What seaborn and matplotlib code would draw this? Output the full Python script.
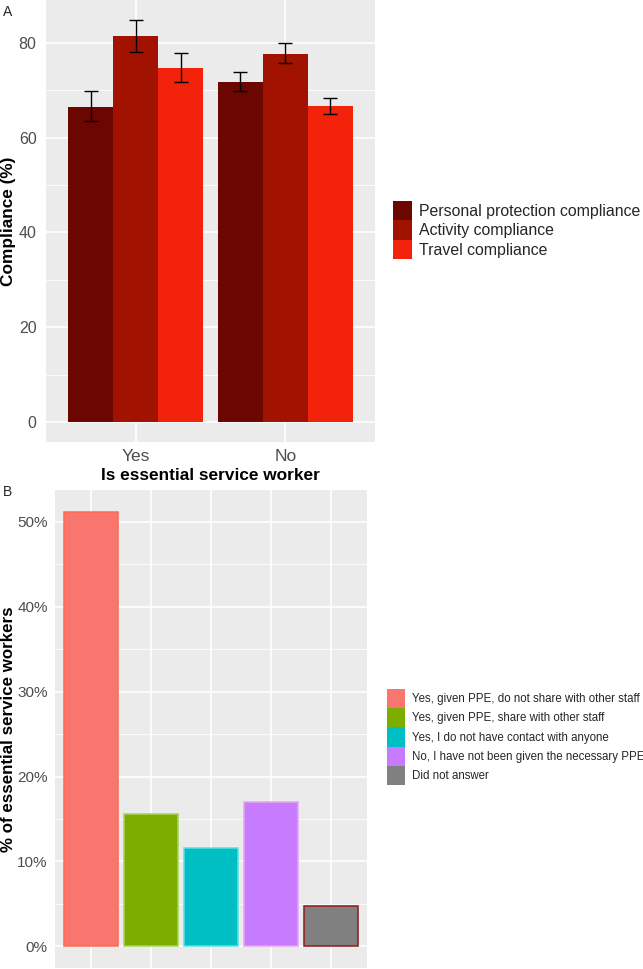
import matplotlib
matplotlib.use("Agg")
import matplotlib.pyplot as plt
from matplotlib.patches import Patch
from matplotlib.ticker import MultipleLocator, FuncFormatter
import pandas as pd
import seaborn as sns

W, H = 643, 969

# Panel A: compliance by essential-worker status
workers = ["Yes", "No"]
measures = ["Personal protection compliance", "Activity compliance", "Travel compliance"]
pp_mean = [66.6, 71.7]
pp_lo = [63.6, 69.8]
pp_hi = [69.8, 73.8]
act_mean = [81.5, 77.8]
act_lo = [78.2, 75.7]
act_hi = [84.9, 80.1]
trav_mean = [74.7, 66.7]
trav_lo = [71.7, 65.1]
trav_hi = [77.9, 68.5]
colors_a = ["#6B0600", "#A11300", "#F2230A"]

# Panel B: PPE situation of essential service workers
answers = [
    "Yes, given PPE, do not share with other staff",
    "Yes, given PPE, share with other staff",
    "Yes, I do not have contact with anyone",
    "No, I have not been given the necessary PPE",
    "Did not answer",
]
answer_pct = [51.2, 15.6, 11.6, 17.0, 4.7]
colors_b = ["#F8766D", "#7CAE00", "#00BFC4", "#C77CFF", "#808080"]
edges_b = ["#FF6B4F", "#A9D25A", "#5CE0E0", "#E3A6EE", "#8E1B1B"]

FONT = ["Liberation Sans", "DejaVu Sans"]


def px(x, y, w, h):
    # pixel box (top-left origin) -> figure fraction
    return [x / W, 1 - (y + h) / H, w / W, h / H]


def style_axes(ax):
    ax.set_facecolor("#EBEBEB")
    for s in ax.spines.values():
        s.set_visible(False)
    ax.set_axisbelow(True)
    ax.grid(which="major", color="white", lw=1.2)
    ax.grid(which="minor", axis="y", color="white", lw=0.6)
    ax.tick_params(which="major", length=2.8, width=0.8, color="#333333",
                   labelcolor="#4D4D4D")
    ax.tick_params(which="minor", length=0)


sns.set_theme(style="darkgrid")
plt.rcParams["font.family"] = FONT

fig = plt.figure(figsize=(W / 100, H / 100), dpi=100)
fig.patch.set_facecolor("white")

# ---- Panel A ----
rows = []
for m, means in zip(measures, [pp_mean, act_mean, trav_mean]):
    for w, v in zip(workers, means):
        rows.append({"worker": w, "measure": m, "value": v})
df_a = pd.DataFrame(rows)

ax_a = fig.add_axes(px(46, 0, 329, 442))
sns.barplot(data=df_a, x="worker", y="value", hue="measure", order=workers,
            hue_order=measures, palette=colors_a, width=0.9, saturation=1,
            errorbar=None, linewidth=0, ax=ax_a)

lows = [pp_lo, act_lo, trav_lo]
highs = [pp_hi, act_hi, trav_hi]
for cont, lo, hi in zip(ax_a.containers, lows, highs):
    for bar, l, h in zip(cont, lo, hi):
        xc = bar.get_x() + bar.get_width() / 2
        mid = (l + h) / 2
        ax_a.errorbar(xc, mid, yerr=[[mid - l], [h - mid]], fmt="none",
                      ecolor="black", elinewidth=1.0, capsize=4.8, capthick=1.0,
                      zorder=5)

style_axes(ax_a)
ax_a.set_xlim(-0.6, 1.6)
ax_a.set_ylim(-4.25, 89.1)
ax_a.yaxis.set_major_locator(MultipleLocator(20))
ax_a.yaxis.set_minor_locator(MultipleLocator(10))
ax_a.tick_params(axis="y", labelsize=11.5, pad=4)
ax_a.tick_params(axis="x", labelsize=12.5, pad=2)
ax_a.set_xlabel("Is essential service worker", fontsize=12.4, fontweight="bold",
                color="black", labelpad=3)
ax_a.set_ylabel("Compliance (%)", fontsize=12.4, fontweight="bold", color="black")
ax_a.yaxis.set_label_coords((16 - 46) / 329, 0.5)
ax_a.legend(loc="center left", bbox_to_anchor=(393 / W, 1 - 230 / H),
            bbox_transform=fig.transFigure, frameon=False, fontsize=11.4,
            handlelength=1.2, handleheight=1.52, handletextpad=0.44,
            labelspacing=0.0, borderpad=0, borderaxespad=0)

# ---- Panel B ----
df_b = pd.DataFrame({"answer": answers, "pct": answer_pct})
ax_b = fig.add_axes(px(55, 490, 312, 478))
sns.barplot(data=df_b, x="answer", y="pct", hue="answer", order=answers,
            hue_order=answers, palette=colors_b, width=0.9, saturation=1,
            legend=False, ax=ax_b)
for bar, ec in zip(ax_b.patches, edges_b):
    bar.set_edgecolor(ec)
    bar.set_linewidth(1.1)

style_axes(ax_b)
ax_b.set_xlim(-0.6, 4.6)
ax_b.set_ylim(-2.56, 53.76)
ax_b.yaxis.set_major_locator(MultipleLocator(10))
ax_b.yaxis.set_minor_locator(MultipleLocator(5))
ax_b.yaxis.set_major_formatter(FuncFormatter(lambda v, p: f"{v:.0f}%"))
ax_b.tick_params(axis="y", labelsize=11, pad=2.5)
ax_b.tick_params(axis="x", labelbottom=False)
ax_b.set_xlabel("")
ax_b.set_ylabel("% of essential service workers", fontsize=12.2,
                fontweight="bold", color="black")
ax_b.yaxis.set_label_coords((16 - 55) / 312, 0.5)
handles = [Patch(facecolor=c, edgecolor="none") for c in colors_b]
ax_b.legend(handles, answers, loc="center left",
            bbox_to_anchor=(387 / W, 1 - 737 / H),
            bbox_transform=fig.transFigure, frameon=False, fontsize=8.3,
            handlelength=1.56, handleheight=2.2, handletextpad=0.6,
            labelspacing=0.0, borderpad=0, borderaxespad=0)

fig.text(3 / W, 1 - 12 / H, "A", fontsize=10, va="center", ha="left")
fig.text(3 / W, 1 - 492 / H, "B", fontsize=10, va="center", ha="left")

fig.savefig("out.png", dpi=100, facecolor="white")
